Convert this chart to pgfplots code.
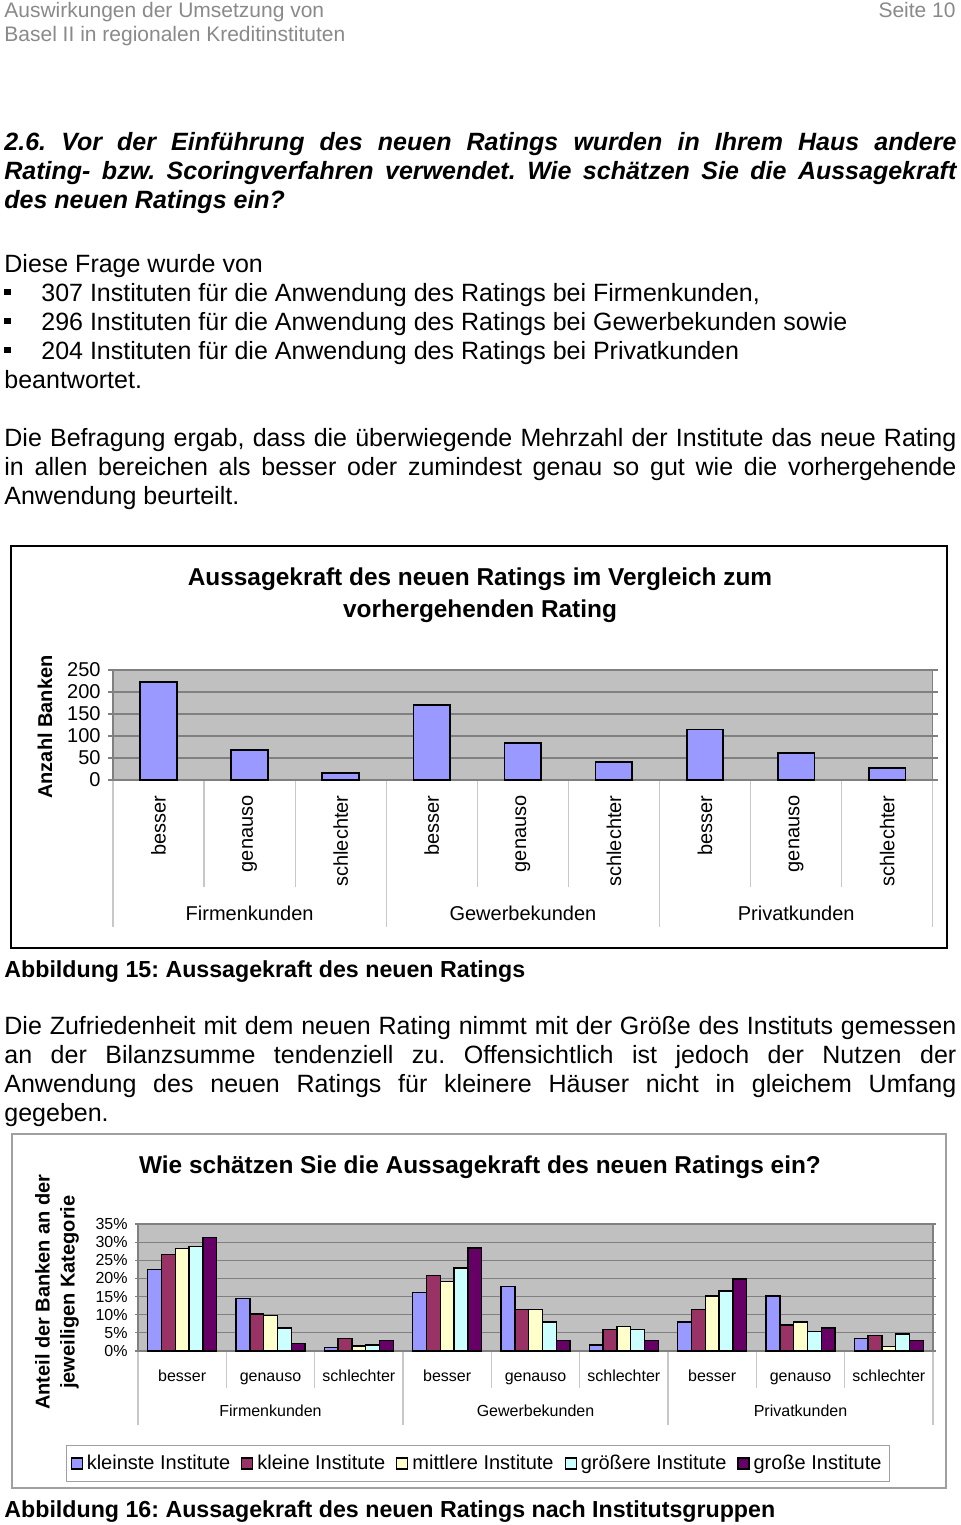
\documentclass[border=0pt]{standalone}
\usepackage{fontspec}
\setmainfont{Liberation Sans}
\usepackage{pgfplots}
\usepackage{pgfplotstable}
\pgfplotsset{compat=1.18}
\definecolor{bA}{HTML}{9999FF}
\definecolor{bB}{HTML}{993366}
\definecolor{bC}{HTML}{FFFFCC}
\definecolor{bD}{HTML}{CCFFFF}
\definecolor{bE}{HTML}{660066}
\definecolor{plotbg}{HTML}{C0C0C0}
\definecolor{gridgray}{HTML}{808080}
\definecolor{sepgray}{HTML}{C8C8C8}
\definecolor{hdrgray}{HTML}{8A8A8A}
\definecolor{framegray}{HTML}{A0A0A0}
\newcommand{\fs}[1]{\fontsize{#1}{1.2\dimexpr#1\relax}\selectfont}
\frenchspacing

\pgfplotstableread{
x n
0 222
1 69
2 16
3 171
4 84
5 41
6 115
7 62
8 27
}\dataone

\pgfplotstableread{
x k1 k2 k3 k4 k5
0 22.4 26.6 28.2 28.8 31.3
1 14.4 10.2 9.8 6.3 2.1
2 0.9 3.5 1.4 1.7 2.9
3 16.1 20.8 19.1 22.9 28.4
4 17.7 11.5 11.5 8.0 2.9
5 1.7 5.9 6.7 5.9 2.9
6 8.0 11.5 15.2 16.5 19.9
7 15.2 7.2 8.0 5.3 6.3
8 3.4 4.2 1.2 4.7 2.9
}\datatwo

\begin{document}
\frenchspacing
\begin{tikzpicture}[x=0.5pt,y=-0.5pt]
\path[use as bounding box, fill=white] (0,0) rectangle (960,1525);

% header
\node[anchor=base west, inner sep=0, text=hdrgray, font=\fs{10.5pt}] at (4,17.5) {Auswirkungen der Umsetzung von};
\node[anchor=base west, inner sep=0, text=hdrgray, font=\fs{10.5pt}] at (4,41.5) {Basel II in regionalen Kreditinstituten};
\node[anchor=base east, inner sep=0, text=hdrgray, font=\fs{10.5pt}] at (956,17.5) {Seite 10};

% heading
\node[anchor=base west, inner sep=0, font=\fs{12.5pt}\bfseries\itshape] at (4,150) {\makebox[476pt][s]{2.6. Vor der Einführung des neuen Ratings wurden in Ihrem Haus andere}};
\node[anchor=base west, inner sep=0, font=\fs{12.5pt}\bfseries\itshape] at (4,179) {\makebox[476pt][s]{Rating- bzw. Scoringverfahren verwendet. Wie schätzen Sie die Aussagekraft}};
\node[anchor=base west, inner sep=0, font=\fs{12.5pt}\bfseries\itshape] at (4,208) {des neuen Ratings ein?};

% paragraph 1
\node[anchor=base west, inner sep=0, font=\fs{12.5pt}] at (4,272) {Diese Frage wurde von};
\foreach \yy/\tt in {301/{307 Instituten für die Anwendung des Ratings bei Firmenkunden,},330/{296 Instituten für die Anwendung des Ratings bei Gewerbekunden sowie},359/{204 Instituten für die Anwendung des Ratings bei Privatkunden}}{
  \fill (4,\yy-12.5) rectangle (10.5,\yy-6);
  \node[anchor=base west, inner sep=0, font=\fs{12.5pt}] at (41,\yy) {\tt};
}
\node[anchor=base west, inner sep=0, font=\fs{12.5pt}] at (4,388) {beantwortet.};

% paragraph 2
\node[anchor=base west, inner sep=0, font=\fs{12.5pt}] at (4,446) {\makebox[476pt][s]{Die Befragung ergab, dass die überwiegende Mehrzahl der Institute das neue Rating}};
\node[anchor=base west, inner sep=0, font=\fs{12.5pt}] at (4,475) {\makebox[476pt][s]{in allen bereichen als besser oder zumindest genau so gut wie die vorhergehende}};
\node[anchor=base west, inner sep=0, font=\fs{12.5pt}] at (4,504) {Anwendung beurteilt.};

% chart 1 frame and title
\draw[line width=1.1pt] (11,546) rectangle (947,948);
\node[anchor=base, inner sep=0, font=\fs{12.2pt}\bfseries] at (480,585) {Aussagekraft des neuen Ratings im Vergleich zum};
\node[anchor=base, inner sep=0, font=\fs{12.2pt}\bfseries] at (480,617) {vorhergehenden Rating};
\node[rotate=90, inner sep=0, font=\fs{10pt}\bfseries] at (45,727) {Anzahl Banken};
\foreach \k in {1,2,4,5,7,8} {\draw[sepgray, line width=0.6pt] (113+\k*91.08,780) -- (113+\k*91.08,887);}
\foreach \k in {0,3,6,9} {\draw[sepgray, line width=0.6pt] (113+\k*91.08,780) -- (113+\k*91.08,927);}
\node[anchor=base, inner sep=0, font=\fs{10pt}] at (249.6,920) {Firmenkunden};
\node[anchor=base, inner sep=0, font=\fs{10pt}] at (522.9,920) {Gewerbekunden};
\node[anchor=base, inner sep=0, font=\fs{10pt}] at (796.2,920) {Privatkunden};

\coordinate (A1) at (113,780);
\begin{axis}[
  at={(A1)}, anchor=south west, scale only axis,
  width=409.85pt, height=55pt,
  xmin=-0.5, xmax=8.5, ymin=0, ymax=250,
  ytick={0,50,...,250},
  xtick={0,...,8},
  xticklabels={besser,genauso,schlechter,besser,genauso,schlechter,besser,genauso,schlechter},
  x tick label style={rotate=90, anchor=east, font=\fs{10pt}, inner sep=0pt, xshift=-5pt},
  y tick label style={font=\fs{10pt}, inner sep=0pt, xshift=-3.5pt},
  /pgf/number format/assume math mode=true,
  xtick style={draw=none},
  ytick style={gridgray, line width=0.6pt},
  tick align=outside, major tick length=2.5pt,
  axis background/.style={fill=plotbg},
  ymajorgrids, grid style={gridgray, line width=0.6pt},
  axis line style={gridgray, line width=0.6pt},
  ybar, bar width=18.35pt,
  clip=false,
]
\addplot[fill=bA, draw=black, line width=0.9pt] table[x=x, y=n] {\dataone};
\end{axis}

\node[anchor=base west, inner sep=0, font=\fs{11.6pt}\bfseries] at (4,977) {Abbildung 15: Aussagekraft des neuen Ratings};

% paragraph 3
\node[anchor=base west, inner sep=0, font=\fs{12.5pt}] at (4,1034) {\makebox[476pt][s]{Die Zufriedenheit mit dem neuen Rating nimmt mit der Größe des Instituts gemessen}};
\node[anchor=base west, inner sep=0, font=\fs{12.5pt}] at (4,1063) {\makebox[476pt][s]{an der Bilanzsumme tendenziell zu. Offensichtlich ist jedoch der Nutzen der}};
\node[anchor=base west, inner sep=0, font=\fs{12.5pt}] at (4,1092) {\makebox[476pt][s]{Anwendung des neuen Ratings für kleinere Häuser nicht in gleichem Umfang}};
\node[anchor=base west, inner sep=0, font=\fs{12.5pt}] at (4,1121) {gegeben.};

% chart 2 frame and title
\draw[framegray, line width=0.6pt] (12,1134) rectangle (946,1488);
\node[anchor=base, inner sep=0, font=\fs{12.2pt}\bfseries] at (480,1173) {Wie schätzen Sie die Aussagekraft des neuen Ratings ein?};
\node[rotate=90, inner sep=0, align=center, font=\fontsize{10pt}{12.5pt}\selectfont\bfseries] at (57,1292) {Anteil der Banken an der\\jeweiligen Kategorie};
\foreach \k in {1,2,4,5,7,8} {\draw[sepgray, line width=0.6pt] (138+\k*88.33,1351) -- (138+\k*88.33,1388);}
\foreach \k in {0,3,6,9} {\draw[sepgray, line width=0.6pt] (138+\k*88.33,1351) -- (138+\k*88.33,1425);}
\node[anchor=base, inner sep=0, font=\fs{8pt}] at (270.5,1416.5) {Firmenkunden};
\node[anchor=base, inner sep=0, font=\fs{8pt}] at (535.5,1416.5) {Gewerbekunden};
\node[anchor=base, inner sep=0, font=\fs{8pt}] at (800.5,1416.5) {Privatkunden};

\coordinate (A2) at (138,1351);
\begin{axis}[
  at={(A2)}, anchor=south west, scale only axis,
  width=397.5pt, height=63.5pt,
  xmin=-0.5, xmax=8.5, ymin=0, ymax=35,
  ytick={0,5,...,35},
  yticklabel={\pgfmathprintnumber{\tick}\%},
  xtick={0,...,8},
  xticklabels={besser,genauso,schlechter,besser,genauso,schlechter,besser,genauso,schlechter},
  x tick label style={anchor=base, font=\fs{8pt}, inner sep=0pt, yshift=-13.5pt},
  y tick label style={font=\fs{8pt}, inner sep=0pt, xshift=-3.5pt},
  /pgf/number format/assume math mode=true,
  xtick style={draw=none},
  ytick style={gridgray, line width=0.6pt},
  tick align=outside, major tick length=1.5pt,
  axis background/.style={fill=plotbg},
  ymajorgrids, grid style={gridgray, line width=0.6pt},
  axis line style={gridgray, line width=0.6pt},
  ybar=0pt, bar width=6.9pt,
  clip=false,
  sqleg/.style={legend image code/.code={\draw[##1, line width=0.6pt] (0pt,-2.75pt) rectangle (5.5pt,2.75pt);}},
  legend style={at={(0.4277,-0.8858)}, anchor=center, legend columns=5, draw=framegray, line width=0.5pt,
    font=\fs{10pt}, inner xsep=2pt, inner ysep=2.5pt,
    /tikz/every even column/.append style={column sep=3.5pt}},
]
\addplot[fill=bA, draw=black, line width=0.7pt, sqleg] table[x=x, y=k1] {\datatwo};
\addplot[fill=bB, draw=black, line width=0.7pt, sqleg] table[x=x, y=k2] {\datatwo};
\addplot[fill=bC, draw=black, line width=0.7pt, sqleg] table[x=x, y=k3] {\datatwo};
\addplot[fill=bD, draw=black, line width=0.7pt, sqleg] table[x=x, y=k4] {\datatwo};
\addplot[fill=bE, draw=black, line width=0.7pt, sqleg] table[x=x, y=k5] {\datatwo};
\legend{kleinste Institute, kleine Institute, mittlere Institute, größere Institute, große Institute}
\end{axis}

\node[anchor=base west, inner sep=0, font=\fs{11.6pt}\bfseries] at (4,1517) {Abbildung 16: Aussagekraft des neuen Ratings nach Institutsgruppen};
\end{tikzpicture}
\end{document}
